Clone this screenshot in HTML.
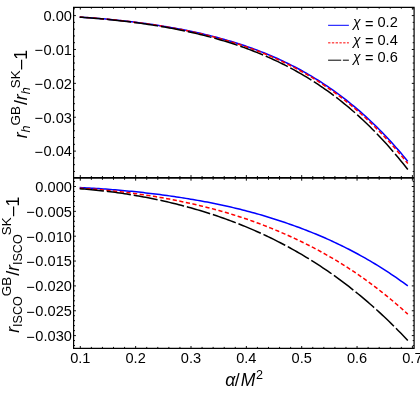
<!DOCTYPE html><html><head><meta charset="utf-8"><style>html,body{margin:0;padding:0;background:#fff}svg{display:block;will-change:transform}text{font-family:"Liberation Sans",sans-serif;fill:#000}</style></head><body>
<svg width="420" height="394" viewBox="0 0 420 394">
<rect width="420" height="394" fill="#fff"/>
<g fill="none" stroke-width="1.5" stroke-linejoin="round">
<path d="M79.70,17.08 L82.06,17.23 L84.42,17.39 L86.78,17.55 L89.14,17.72 L91.50,17.89 L93.86,18.07 L96.22,18.26 L98.58,18.45 L100.94,18.65 L103.30,18.85 L105.66,19.06 L108.03,19.28 L110.39,19.50 L112.75,19.72 L115.11,19.96 L117.47,20.20 L119.83,20.44 L122.19,20.70 L124.55,20.95 L126.91,21.22 L129.27,21.49 L131.63,21.77 L133.99,22.05 L136.35,22.34 L138.71,22.64 L141.07,22.95 L143.43,23.26 L145.79,23.58 L148.15,23.91 L150.51,24.24 L152.87,24.59 L155.23,24.94 L157.59,25.30 L159.95,25.66 L162.32,26.04 L164.68,26.42 L167.04,26.81 L169.40,27.21 L171.76,27.62 L174.12,28.04 L176.48,28.47 L178.84,28.91 L181.20,29.35 L183.56,29.81 L185.92,30.27 L188.28,30.75 L190.64,31.24 L193.00,31.73 L195.36,32.24 L197.72,32.76 L200.08,33.29 L202.44,33.83 L204.80,34.39 L207.16,34.95 L209.52,35.53 L211.88,36.12 L214.24,36.72 L216.61,37.34 L218.97,37.97 L221.33,38.61 L223.69,39.26 L226.05,39.93 L228.41,40.62 L230.77,41.32 L233.13,42.03 L235.49,42.76 L237.85,43.50 L240.21,44.26 L242.57,45.03 L244.93,45.82 L247.29,46.63 L249.65,47.46 L252.01,48.30 L254.37,49.16 L256.73,50.03 L259.09,50.93 L261.45,51.84 L263.81,52.77 L266.17,53.72 L268.53,54.69 L270.89,55.68 L273.26,56.70 L275.62,57.73 L277.98,58.78 L280.34,59.85 L282.70,60.95 L285.06,62.06 L287.42,63.20 L289.78,64.37 L292.14,65.55 L294.50,66.76 L296.86,67.99 L299.22,69.25 L301.58,70.53 L303.94,71.84 L306.30,73.17 L308.66,74.53 L311.02,75.92 L313.38,77.33 L315.74,78.77 L318.10,80.24 L320.46,81.73 L322.82,83.26 L325.18,84.81 L327.55,86.40 L329.91,88.01 L332.27,89.65 L334.63,91.33 L336.99,93.03 L339.35,94.77 L341.71,96.54 L344.07,98.34 L346.43,100.18 L348.79,102.05 L351.15,103.96 L353.51,105.90 L355.87,107.87 L358.23,109.88 L360.59,111.93 L362.95,114.01 L365.31,116.14 L367.67,118.30 L370.03,120.49 L372.39,122.73 L374.75,125.01 L377.11,127.33 L379.47,129.68 L381.84,132.08 L384.20,134.53 L386.56,137.01 L388.92,139.54 L391.28,142.11 L393.64,144.72 L396.00,147.38 L398.36,150.08 L400.72,152.83 L403.08,155.63 L405.44,158.47 L407.80,161.36" stroke="#0000ff"/>
<path d="M79.70,17.09 L82.06,17.25 L84.42,17.41 L86.78,17.57 L89.14,17.74 L91.50,17.92 L93.86,18.10 L96.22,18.29 L98.58,18.49 L100.94,18.69 L103.30,18.89 L105.66,19.11 L108.03,19.32 L110.39,19.55 L112.75,19.78 L115.11,20.02 L117.47,20.26 L119.83,20.51 L122.19,20.77 L124.55,21.03 L126.91,21.30 L129.27,21.58 L131.63,21.86 L133.99,22.15 L136.35,22.45 L138.71,22.75 L141.07,23.06 L143.43,23.38 L145.79,23.71 L148.15,24.04 L150.51,24.38 L152.87,24.73 L155.23,25.09 L157.59,25.45 L159.95,25.83 L162.32,26.21 L164.68,26.60 L167.04,27.00 L169.40,27.41 L171.76,27.82 L174.12,28.25 L176.48,28.69 L178.84,29.13 L181.20,29.59 L183.56,30.05 L185.92,30.53 L188.28,31.01 L190.64,31.51 L193.00,32.02 L195.36,32.53 L197.72,33.06 L200.08,33.60 L202.44,34.16 L204.80,34.72 L207.16,35.30 L209.52,35.89 L211.88,36.49 L214.24,37.10 L216.61,37.73 L218.97,38.37 L221.33,39.02 L223.69,39.69 L226.05,40.37 L228.41,41.07 L230.77,41.78 L233.13,42.51 L235.49,43.25 L237.85,44.01 L240.21,44.78 L242.57,45.57 L244.93,46.38 L247.29,47.20 L249.65,48.04 L252.01,48.89 L254.37,49.77 L256.73,50.66 L259.09,51.57 L261.45,52.50 L263.81,53.45 L266.17,54.42 L268.53,55.41 L270.89,56.41 L273.26,57.44 L275.62,58.49 L277.98,59.56 L280.34,60.65 L282.70,61.77 L285.06,62.90 L287.42,64.06 L289.78,65.24 L292.14,66.45 L294.50,67.68 L296.86,68.93 L299.22,70.21 L301.58,71.51 L303.94,72.84 L306.30,74.19 L308.66,75.57 L311.02,76.98 L313.38,78.42 L315.74,79.88 L318.10,81.37 L320.46,82.89 L322.82,84.43 L325.18,86.01 L327.55,87.62 L329.91,89.26 L332.27,90.92 L334.63,92.62 L336.99,94.35 L339.35,96.12 L341.71,97.91 L344.07,99.74 L346.43,101.60 L348.79,103.50 L351.15,105.43 L353.51,107.40 L355.87,109.40 L358.23,111.44 L360.59,113.51 L362.95,115.63 L365.31,117.78 L367.67,119.97 L370.03,122.19 L372.39,124.46 L374.75,126.77 L377.11,129.11 L379.47,131.50 L381.84,133.93 L384.20,136.40 L386.56,138.92 L388.92,141.47 L391.28,144.08 L393.64,146.72 L396.00,149.41 L398.36,152.15 L400.72,154.93 L403.08,157.76 L405.44,160.64 L407.80,163.57" stroke="#ff0000" stroke-dasharray="4.2 2.5"/>
<path d="M79.70,17.14 L82.06,17.30 L84.42,17.46 L86.78,17.64 L89.14,17.81 L91.50,18.00 L93.86,18.19 L96.22,18.38 L98.58,18.58 L100.94,18.79 L103.30,19.01 L105.66,19.23 L108.03,19.46 L110.39,19.69 L112.75,19.93 L115.11,20.18 L117.47,20.43 L119.83,20.70 L122.19,20.96 L124.55,21.24 L126.91,21.52 L129.27,21.81 L131.63,22.11 L133.99,22.41 L136.35,22.72 L138.71,23.04 L141.07,23.37 L143.43,23.70 L145.79,24.04 L148.15,24.39 L150.51,24.75 L152.87,25.12 L155.23,25.49 L157.59,25.88 L159.95,26.27 L162.32,26.67 L164.68,27.08 L167.04,27.50 L169.40,27.93 L171.76,28.37 L174.12,28.82 L176.48,29.28 L178.84,29.75 L181.20,30.23 L183.56,30.72 L185.92,31.22 L188.28,31.73 L190.64,32.25 L193.00,32.78 L195.36,33.33 L197.72,33.89 L200.08,34.45 L202.44,35.04 L204.80,35.63 L207.16,36.24 L209.52,36.86 L211.88,37.49 L214.24,38.13 L216.61,38.79 L218.97,39.47 L221.33,40.16 L223.69,40.86 L226.05,41.58 L228.41,42.31 L230.77,43.06 L233.13,43.82 L235.49,44.60 L237.85,45.39 L240.21,46.20 L242.57,47.03 L244.93,47.88 L247.29,48.74 L249.65,49.62 L252.01,50.52 L254.37,51.44 L256.73,52.37 L259.09,53.33 L261.45,54.30 L263.81,55.30 L266.17,56.31 L268.53,57.34 L270.89,58.40 L273.26,59.48 L275.62,60.57 L277.98,61.69 L280.34,62.83 L282.70,64.00 L285.06,65.19 L287.42,66.40 L289.78,67.63 L292.14,68.89 L294.50,70.17 L296.86,71.48 L299.22,72.82 L301.58,74.18 L303.94,75.56 L306.30,76.97 L308.66,78.41 L311.02,79.88 L313.38,81.37 L315.74,82.90 L318.10,84.45 L320.46,86.03 L322.82,87.64 L325.18,89.28 L327.55,90.95 L329.91,92.65 L332.27,94.39 L334.63,96.15 L336.99,97.95 L339.35,99.78 L341.71,101.65 L344.07,103.55 L346.43,105.48 L348.79,107.45 L351.15,109.45 L353.51,111.49 L355.87,113.57 L358.23,115.68 L360.59,117.83 L362.95,120.02 L365.31,122.25 L367.67,124.52 L370.03,126.82 L372.39,129.17 L374.75,131.56 L377.11,133.98 L379.47,136.45 L381.84,138.97 L384.20,141.52 L386.56,144.12 L388.92,146.76 L391.28,149.45 L393.64,152.18 L396.00,154.96 L398.36,157.79 L400.72,160.66 L403.08,163.58 L405.44,166.55 L407.80,169.57" stroke="#000" stroke-dasharray="24.38 2.9"/>
<path d="M79.70,187.50 L82.06,187.63 L84.42,187.75 L86.78,187.88 L89.14,188.02 L91.50,188.16 L93.86,188.31 L96.22,188.46 L98.58,188.62 L100.94,188.78 L103.30,188.95 L105.66,189.12 L108.03,189.30 L110.39,189.48 L112.75,189.67 L115.11,189.86 L117.47,190.06 L119.83,190.27 L122.19,190.48 L124.55,190.69 L126.91,190.91 L129.27,191.14 L131.63,191.37 L133.99,191.61 L136.35,191.85 L138.71,192.10 L141.07,192.36 L143.43,192.62 L145.79,192.88 L148.15,193.16 L150.51,193.43 L152.87,193.72 L155.23,194.01 L157.59,194.31 L159.95,194.61 L162.32,194.92 L164.68,195.23 L167.04,195.56 L169.40,195.88 L171.76,196.22 L174.12,196.56 L176.48,196.91 L178.84,197.27 L181.20,197.63 L183.56,198.00 L185.92,198.38 L188.28,198.76 L190.64,199.15 L193.00,199.55 L195.36,199.96 L197.72,200.37 L200.08,200.80 L202.44,201.23 L204.80,201.67 L207.16,202.11 L209.52,202.57 L211.88,203.03 L214.24,203.50 L216.61,203.98 L218.97,204.47 L221.33,204.96 L223.69,205.47 L226.05,205.99 L228.41,206.52 L230.77,207.06 L233.13,207.61 L235.49,208.18 L237.85,208.75 L240.21,209.33 L242.57,209.93 L244.93,210.53 L247.29,211.15 L249.65,211.78 L252.01,212.42 L254.37,213.07 L256.73,213.73 L259.09,214.40 L261.45,215.08 L263.81,215.78 L266.17,216.48 L268.53,217.20 L270.89,217.93 L273.26,218.67 L275.62,219.42 L277.98,220.18 L280.34,220.95 L282.70,221.74 L285.06,222.54 L287.42,223.35 L289.78,224.17 L292.14,225.00 L294.50,225.84 L296.86,226.70 L299.22,227.57 L301.58,228.45 L303.94,229.35 L306.30,230.25 L308.66,231.18 L311.02,232.11 L313.38,233.07 L315.74,234.03 L318.10,235.02 L320.46,236.02 L322.82,237.03 L325.18,238.06 L327.55,239.11 L329.91,240.17 L332.27,241.25 L334.63,242.34 L336.99,243.46 L339.35,244.59 L341.71,245.73 L344.07,246.90 L346.43,248.08 L348.79,249.28 L351.15,250.50 L353.51,251.74 L355.87,253.00 L358.23,254.27 L360.59,255.57 L362.95,256.88 L365.31,258.22 L367.67,259.57 L370.03,260.95 L372.39,262.34 L374.75,263.76 L377.11,265.20 L379.47,266.65 L381.84,268.13 L384.20,269.63 L386.56,271.16 L388.92,272.70 L391.28,274.27 L393.64,275.86 L396.00,277.47 L398.36,279.11 L400.72,280.77 L403.08,282.45 L405.44,284.16 L407.80,285.89" stroke="#0000ff"/>
<path d="M79.70,188.24 L82.06,188.37 L84.42,188.52 L86.78,188.67 L89.14,188.83 L91.50,189.00 L93.86,189.18 L96.22,189.37 L98.58,189.56 L100.94,189.76 L103.30,189.97 L105.66,190.19 L108.03,190.42 L110.39,190.65 L112.75,190.89 L115.11,191.14 L117.47,191.40 L119.83,191.67 L122.19,191.94 L124.55,192.22 L126.91,192.51 L129.27,192.81 L131.63,193.11 L133.99,193.43 L136.35,193.75 L138.71,194.08 L141.07,194.41 L143.43,194.76 L145.79,195.11 L148.15,195.47 L150.51,195.84 L152.87,196.22 L155.23,196.61 L157.59,197.00 L159.95,197.41 L162.32,197.82 L164.68,198.24 L167.04,198.67 L169.40,199.11 L171.76,199.55 L174.12,200.01 L176.48,200.47 L178.84,200.95 L181.20,201.43 L183.56,201.93 L185.92,202.43 L188.28,202.94 L190.64,203.46 L193.00,203.99 L195.36,204.54 L197.72,205.09 L200.08,205.65 L202.44,206.22 L204.80,206.80 L207.16,207.40 L209.52,208.00 L211.88,208.61 L214.24,209.24 L216.61,209.88 L218.97,210.52 L221.33,211.18 L223.69,211.85 L226.05,212.54 L228.41,213.24 L230.77,213.95 L233.13,214.68 L235.49,215.42 L237.85,216.17 L240.21,216.94 L242.57,217.71 L244.93,218.51 L247.29,219.31 L249.65,220.13 L252.01,220.97 L254.37,221.82 L256.73,222.68 L259.09,223.55 L261.45,224.44 L263.81,225.35 L266.17,226.26 L268.53,227.19 L270.89,228.14 L273.26,229.10 L275.62,230.07 L277.98,231.06 L280.34,232.06 L282.70,233.08 L285.06,234.11 L287.42,235.16 L289.78,236.22 L292.14,237.30 L294.50,238.39 L296.86,239.50 L299.22,240.62 L301.58,241.75 L303.94,242.91 L306.30,244.08 L308.66,245.26 L311.02,246.47 L313.38,247.69 L315.74,248.94 L318.10,250.20 L320.46,251.48 L322.82,252.77 L325.18,254.09 L327.55,255.43 L329.91,256.78 L332.27,258.16 L334.63,259.56 L336.99,260.97 L339.35,262.41 L341.71,263.87 L344.07,265.35 L346.43,266.85 L348.79,268.37 L351.15,269.91 L353.51,271.48 L355.87,273.06 L358.23,274.67 L360.59,276.31 L362.95,277.96 L365.31,279.64 L367.67,281.34 L370.03,283.07 L372.39,284.82 L374.75,286.60 L377.11,288.40 L379.47,290.22 L381.84,292.07 L384.20,293.94 L386.56,295.84 L388.92,297.77 L391.28,299.72 L393.64,301.70 L396.00,303.71 L398.36,305.74 L400.72,307.80 L403.08,309.89 L405.44,312.01 L407.80,314.15" stroke="#ff0000" stroke-dasharray="4.2 2.5"/>
<path d="M79.70,188.72 L82.06,188.90 L84.42,189.08 L86.78,189.27 L89.14,189.47 L91.50,189.68 L93.86,189.91 L96.22,190.14 L98.58,190.39 L100.94,190.64 L103.30,190.90 L105.66,191.18 L108.03,191.46 L110.39,191.76 L112.75,192.06 L115.11,192.37 L117.47,192.70 L119.83,193.03 L122.19,193.37 L124.55,193.73 L126.91,194.09 L129.27,194.46 L131.63,194.85 L133.99,195.24 L136.35,195.64 L138.71,196.06 L141.07,196.48 L143.43,196.91 L145.79,197.36 L148.15,197.81 L150.51,198.27 L152.87,198.75 L155.23,199.23 L157.59,199.73 L159.95,200.24 L162.32,200.75 L164.68,201.28 L167.04,201.82 L169.40,202.37 L171.76,202.93 L174.12,203.50 L176.48,204.08 L178.84,204.68 L181.20,205.28 L183.56,205.90 L185.92,206.53 L188.28,207.17 L190.64,207.82 L193.00,208.49 L195.36,209.17 L197.72,209.86 L200.08,210.56 L202.44,211.27 L204.80,212.00 L207.16,212.74 L209.52,213.49 L211.88,214.25 L214.24,215.03 L216.61,215.82 L218.97,216.63 L221.33,217.45 L223.69,218.28 L226.05,219.12 L228.41,219.98 L230.77,220.86 L233.13,221.75 L235.49,222.65 L237.85,223.57 L240.21,224.50 L242.57,225.45 L244.93,226.41 L247.29,227.38 L249.65,228.38 L252.01,229.39 L254.37,230.41 L256.73,231.45 L259.09,232.51 L261.45,233.58 L263.81,234.67 L266.17,235.77 L268.53,236.89 L270.89,238.03 L273.26,239.19 L275.62,240.36 L277.98,241.55 L280.34,242.76 L282.70,243.99 L285.06,245.23 L287.42,246.50 L289.78,247.78 L292.14,249.08 L294.50,250.40 L296.86,251.74 L299.22,253.09 L301.58,254.47 L303.94,255.87 L306.30,257.29 L308.66,258.72 L311.02,260.18 L313.38,261.66 L315.74,263.16 L318.10,264.68 L320.46,266.22 L322.82,267.79 L325.18,269.37 L327.55,270.98 L329.91,272.61 L332.27,274.26 L334.63,275.93 L336.99,277.63 L339.35,279.35 L341.71,281.10 L344.07,282.86 L346.43,284.66 L348.79,286.47 L351.15,288.31 L353.51,290.18 L355.87,292.07 L358.23,293.99 L360.59,295.93 L362.95,297.89 L365.31,299.89 L367.67,301.91 L370.03,303.95 L372.39,306.03 L374.75,308.13 L377.11,310.25 L379.47,312.41 L381.84,314.59 L384.20,316.80 L386.56,319.04 L388.92,321.31 L391.28,323.61 L393.64,325.94 L396.00,328.30 L398.36,330.68 L400.72,333.10 L403.08,335.55 L405.44,338.03 L407.80,340.54" stroke="#000" stroke-dasharray="24.3 2.9"/>
</g>
<g stroke="#000" stroke-width="1.2" fill="none">
<path d="M73.6,7.3 H414.1 V348.3 H73.6 Z"/>
<path d="M73.6,177.9 H414.1" stroke-width="1.9"/>
</g>
<path d="M80.30,7.3 v2.3 M80.30,348.3 v-2.3 M80.30,175.1 V180.70000000000002 M91.37,7.3 v1.4 M91.37,348.3 v-1.4 M91.37,176.0 V179.8 M102.44,7.3 v1.4 M102.44,348.3 v-1.4 M102.44,176.0 V179.8 M113.51,7.3 v1.4 M113.51,348.3 v-1.4 M113.51,176.0 V179.8 M124.58,7.3 v1.4 M124.58,348.3 v-1.4 M124.58,176.0 V179.8 M135.65,7.3 v2.3 M135.65,348.3 v-2.3 M135.65,175.1 V180.70000000000002 M146.72,7.3 v1.4 M146.72,348.3 v-1.4 M146.72,176.0 V179.8 M157.79,7.3 v1.4 M157.79,348.3 v-1.4 M157.79,176.0 V179.8 M168.86,7.3 v1.4 M168.86,348.3 v-1.4 M168.86,176.0 V179.8 M179.93,7.3 v1.4 M179.93,348.3 v-1.4 M179.93,176.0 V179.8 M191.00,7.3 v2.3 M191.00,348.3 v-2.3 M191.00,175.1 V180.70000000000002 M202.07,7.3 v1.4 M202.07,348.3 v-1.4 M202.07,176.0 V179.8 M213.14,7.3 v1.4 M213.14,348.3 v-1.4 M213.14,176.0 V179.8 M224.21,7.3 v1.4 M224.21,348.3 v-1.4 M224.21,176.0 V179.8 M235.28,7.3 v1.4 M235.28,348.3 v-1.4 M235.28,176.0 V179.8 M246.35,7.3 v2.3 M246.35,348.3 v-2.3 M246.35,175.1 V180.70000000000002 M257.42,7.3 v1.4 M257.42,348.3 v-1.4 M257.42,176.0 V179.8 M268.49,7.3 v1.4 M268.49,348.3 v-1.4 M268.49,176.0 V179.8 M279.56,7.3 v1.4 M279.56,348.3 v-1.4 M279.56,176.0 V179.8 M290.63,7.3 v1.4 M290.63,348.3 v-1.4 M290.63,176.0 V179.8 M301.70,7.3 v2.3 M301.70,348.3 v-2.3 M301.70,175.1 V180.70000000000002 M312.77,7.3 v1.4 M312.77,348.3 v-1.4 M312.77,176.0 V179.8 M323.84,7.3 v1.4 M323.84,348.3 v-1.4 M323.84,176.0 V179.8 M334.91,7.3 v1.4 M334.91,348.3 v-1.4 M334.91,176.0 V179.8 M345.98,7.3 v1.4 M345.98,348.3 v-1.4 M345.98,176.0 V179.8 M357.05,7.3 v2.3 M357.05,348.3 v-2.3 M357.05,175.1 V180.70000000000002 M368.12,7.3 v1.4 M368.12,348.3 v-1.4 M368.12,176.0 V179.8 M379.19,7.3 v1.4 M379.19,348.3 v-1.4 M379.19,176.0 V179.8 M390.26,7.3 v1.4 M390.26,348.3 v-1.4 M390.26,176.0 V179.8 M401.33,7.3 v1.4 M401.33,348.3 v-1.4 M401.33,176.0 V179.8 M412.40,7.3 v2.3 M412.40,348.3 v-2.3 M412.40,175.1 V180.70000000000002 M73.6,8.82 h1.4 M414.1,8.82 h-1.4 M73.6,15.60 h2.3 M414.1,15.60 h-2.3 M73.6,22.38 h1.4 M414.1,22.38 h-1.4 M73.6,29.15 h1.4 M414.1,29.15 h-1.4 M73.6,35.93 h1.4 M414.1,35.93 h-1.4 M73.6,42.70 h1.4 M414.1,42.70 h-1.4 M73.6,49.48 h2.3 M414.1,49.48 h-2.3 M73.6,56.26 h1.4 M414.1,56.26 h-1.4 M73.6,63.03 h1.4 M414.1,63.03 h-1.4 M73.6,69.81 h1.4 M414.1,69.81 h-1.4 M73.6,76.58 h1.4 M414.1,76.58 h-1.4 M73.6,83.36 h2.3 M414.1,83.36 h-2.3 M73.6,90.14 h1.4 M414.1,90.14 h-1.4 M73.6,96.91 h1.4 M414.1,96.91 h-1.4 M73.6,103.69 h1.4 M414.1,103.69 h-1.4 M73.6,110.46 h1.4 M414.1,110.46 h-1.4 M73.6,117.24 h2.3 M414.1,117.24 h-2.3 M73.6,124.02 h1.4 M414.1,124.02 h-1.4 M73.6,130.79 h1.4 M414.1,130.79 h-1.4 M73.6,137.57 h1.4 M414.1,137.57 h-1.4 M73.6,144.34 h1.4 M414.1,144.34 h-1.4 M73.6,151.12 h2.3 M414.1,151.12 h-2.3 M73.6,157.90 h1.4 M414.1,157.90 h-1.4 M73.6,164.67 h1.4 M414.1,164.67 h-1.4 M73.6,171.45 h1.4 M414.1,171.45 h-1.4 M73.6,181.53 h1.4 M414.1,181.53 h-1.4 M73.6,186.50 h2.3 M414.1,186.50 h-2.3 M73.6,191.47 h1.4 M414.1,191.47 h-1.4 M73.6,196.44 h1.4 M414.1,196.44 h-1.4 M73.6,201.41 h1.4 M414.1,201.41 h-1.4 M73.6,206.38 h1.4 M414.1,206.38 h-1.4 M73.6,211.35 h2.3 M414.1,211.35 h-2.3 M73.6,216.32 h1.4 M414.1,216.32 h-1.4 M73.6,221.29 h1.4 M414.1,221.29 h-1.4 M73.6,226.26 h1.4 M414.1,226.26 h-1.4 M73.6,231.23 h1.4 M414.1,231.23 h-1.4 M73.6,236.20 h2.3 M414.1,236.20 h-2.3 M73.6,241.17 h1.4 M414.1,241.17 h-1.4 M73.6,246.14 h1.4 M414.1,246.14 h-1.4 M73.6,251.11 h1.4 M414.1,251.11 h-1.4 M73.6,256.08 h1.4 M414.1,256.08 h-1.4 M73.6,261.05 h2.3 M414.1,261.05 h-2.3 M73.6,266.02 h1.4 M414.1,266.02 h-1.4 M73.6,270.99 h1.4 M414.1,270.99 h-1.4 M73.6,275.96 h1.4 M414.1,275.96 h-1.4 M73.6,280.93 h1.4 M414.1,280.93 h-1.4 M73.6,285.90 h2.3 M414.1,285.90 h-2.3 M73.6,290.87 h1.4 M414.1,290.87 h-1.4 M73.6,295.84 h1.4 M414.1,295.84 h-1.4 M73.6,300.81 h1.4 M414.1,300.81 h-1.4 M73.6,305.78 h1.4 M414.1,305.78 h-1.4 M73.6,310.75 h2.3 M414.1,310.75 h-2.3 M73.6,315.72 h1.4 M414.1,315.72 h-1.4 M73.6,320.69 h1.4 M414.1,320.69 h-1.4 M73.6,325.66 h1.4 M414.1,325.66 h-1.4 M73.6,330.63 h1.4 M414.1,330.63 h-1.4 M73.6,335.60 h2.3 M414.1,335.60 h-2.3 M73.6,340.57 h1.4 M414.1,340.57 h-1.4 M73.6,345.54 h1.4 M414.1,345.54 h-1.4" stroke="#000" stroke-width="0.95" fill="none"/>
<g font-size="14.6" text-anchor="end">
<text x="71.9" y="20.90">0.00</text>
<text x="71.9" y="54.78"><tspan dy="0.6">−</tspan><tspan dy="-0.6" dx="0.5">0.01</tspan></text>
<text x="71.9" y="88.66"><tspan dy="0.6">−</tspan><tspan dy="-0.6" dx="0.5">0.02</tspan></text>
<text x="71.9" y="122.54"><tspan dy="0.6">−</tspan><tspan dy="-0.6" dx="0.5">0.03</tspan></text>
<text x="71.9" y="156.42"><tspan dy="0.6">−</tspan><tspan dy="-0.6" dx="0.5">0.04</tspan></text>
<text x="71.9" y="191.80">0.000</text>
<text x="71.9" y="216.65"><tspan dy="0.6">−</tspan><tspan dy="-0.6" dx="0.5">0.005</tspan></text>
<text x="71.9" y="241.50"><tspan dy="0.6">−</tspan><tspan dy="-0.6" dx="0.5">0.010</tspan></text>
<text x="71.9" y="266.35"><tspan dy="0.6">−</tspan><tspan dy="-0.6" dx="0.5">0.015</tspan></text>
<text x="71.9" y="291.20"><tspan dy="0.6">−</tspan><tspan dy="-0.6" dx="0.5">0.020</tspan></text>
<text x="71.9" y="316.05"><tspan dy="0.6">−</tspan><tspan dy="-0.6" dx="0.5">0.025</tspan></text>
<text x="71.9" y="340.90"><tspan dy="0.6">−</tspan><tspan dy="-0.6" dx="0.5">0.030</tspan></text>
</g>
<g font-size="14.6" text-anchor="middle">
<text x="80.30" y="363.2">0.1</text>
<text x="135.65" y="363.2">0.2</text>
<text x="191.00" y="363.2">0.3</text>
<text x="246.35" y="363.2">0.4</text>
<text x="301.70" y="363.2">0.5</text>
<text x="357.05" y="363.2">0.6</text>
<text x="412.40" y="363.2">0.7</text>
</g>
<text x="225.2" y="385.7" font-size="17.6" font-style="italic">α<tspan font-style="normal" dx="-0.4">/</tspan><tspan dx="0.9">M</tspan><tspan font-size="12.6" font-style="normal" dy="-6.5" dx="0.6">2</tspan></text>
<g transform="translate(26.7,138.3) rotate(-90)"><text x="0" y="0" font-size="17.6"><tspan font-style="italic">r</tspan><tspan font-size="12.6" dy="3.7" font-style="italic">h</tspan><tspan font-size="13.4" dy="-10.8">GB</tspan><tspan dy="7.1" dx="1">/</tspan><tspan font-style="italic">r</tspan><tspan font-size="12.6" dy="3.7" font-style="italic">h</tspan><tspan font-size="13.4" dy="-10.8" dx="-1">SK</tspan><tspan dy="6.4" dx="1">–</tspan><tspan dy="0.7">1</tspan></text></g>
<g transform="translate(18.8,332.8) rotate(-90)"><text x="0" y="0" font-size="17.6"><tspan font-style="italic">r</tspan><tspan font-size="12.6" dy="3.0" font-style="normal">ISCO</tspan><tspan font-size="13.4" dy="-10.6">GB</tspan><tspan dy="7.6" dx="1">/</tspan><tspan font-style="italic">r</tspan><tspan font-size="12.6" dy="3.0" font-style="normal">ISCO</tspan><tspan font-size="13.4" dy="-10.6" dx="-1">SK</tspan><tspan dy="6.9" dx="1">–</tspan><tspan dy="0.7">1</tspan></text></g>
<g stroke-width="1" fill="none">
<path d="M328.1,25.3 H348.9" stroke="#0000ff"/>
<path d="M328.1,42.85 H348.9" stroke="#ff0000" stroke-dasharray="2.35 1.42"/>
<path d="M328.1,60.2 H348.9" stroke="#000" stroke-dasharray="13.1 1.7"/>
</g>
<text x="353.1" y="27.4" font-size="14" font-style="italic">χ</text><text x="364.9" y="27.1" font-size="14.6"><tspan dy="1.4">=</tspan><tspan dy="-1.4"> 0.2</tspan></text>
<text x="353.1" y="44.8" font-size="14" font-style="italic">χ</text><text x="364.9" y="44.5" font-size="14.6"><tspan dy="1.4">=</tspan><tspan dy="-1.4"> 0.4</tspan></text>
<text x="353.1" y="62.2" font-size="14" font-style="italic">χ</text><text x="364.9" y="61.9" font-size="14.6"><tspan dy="1.4">=</tspan><tspan dy="-1.4"> 0.6</tspan></text>
</svg></body></html>
